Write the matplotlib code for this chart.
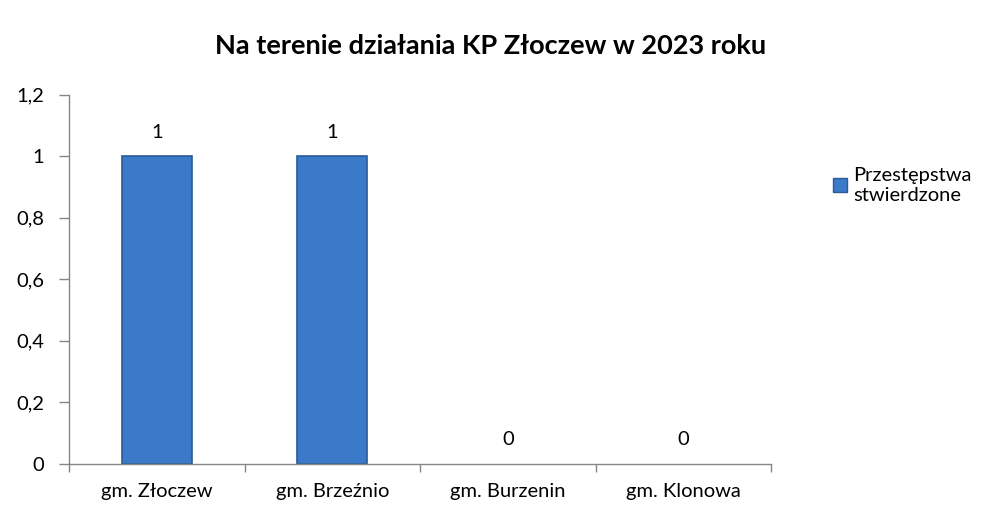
import matplotlib.pyplot as plt
from matplotlib.patches import Patch

categories = ["gm. Złoczew", "gm. Brzeźnio", "gm. Burzenin", "gm. Klonowa"]
values = [1, 1, 0, 0]
series_label = "Przestępstwa\nstwierdzone"
y_ticks = [0, 0.2, 0.4, 0.6, 0.8, 1.0, 1.2]
y_tick_labels = ["0", "0,2", "0,4", "0,6", "0,8", "1", "1,2"]
title = "Na terenie działania KP Złoczew w 2023 roku"

plt.rcParams["font.family"] = ["Lato", "DejaVu Sans"]

BAR_COLOR = "#3B7AC9"
EDGE_COLOR = "#2A5A98"
AXIS_COLOR = "#868686"
FS = 14.5

fig = plt.figure(figsize=(9.82, 5.12), dpi=100)
ax = fig.add_axes([0.0703, 0.094, 0.715, 0.721])

x = list(range(len(categories)))
widths = [1.2 if v > 0 else 0 for v in values]
ax.bar(x, values, width=0.4, color=BAR_COLOR, edgecolor=EDGE_COLOR, linewidth=widths, zorder=2)
for xi, v in zip(x, values):
    ax.text(xi, v + 0.05, f"{v}", ha="center", va="bottom", fontsize=FS, color="#000000")

ax.set_xlim(-0.5, len(categories) - 0.5)
ax.set_ylim(0, 1.2)
ax.set_yticks(y_ticks)
ax.set_yticklabels(y_tick_labels)
ax.set_xticks(x)
ax.set_xticklabels(categories)
ax.set_xticks([i - 0.5 for i in range(len(categories) + 1)], minor=True)
ax.tick_params(axis="x", which="major", length=0, pad=14, labelsize=FS)
ax.tick_params(axis="x", which="minor", length=6, color=AXIS_COLOR, width=1)
ax.tick_params(axis="y", length=7, color=AXIS_COLOR, width=1, pad=11, labelsize=FS)

for side in ("top", "right"):
    ax.spines[side].set_visible(False)
for side in ("left", "bottom"):
    ax.spines[side].set_color(AXIS_COLOR)
    ax.spines[side].set_linewidth(1)

fig.text(0.5, 0.91, title, ha="center", va="center", fontsize=19.5, fontweight="bold")

handle = Patch(facecolor=BAR_COLOR, edgecolor=EDGE_COLOR, linewidth=1)
fig.legend([handle], [series_label], loc="upper left", bbox_to_anchor=(0.84, 0.69),
           frameon=False, fontsize=FS, handlelength=0.7, handleheight=0.7,
           handletextpad=0.3, borderaxespad=0)

fig.savefig("out.png", dpi=100, facecolor="white")
